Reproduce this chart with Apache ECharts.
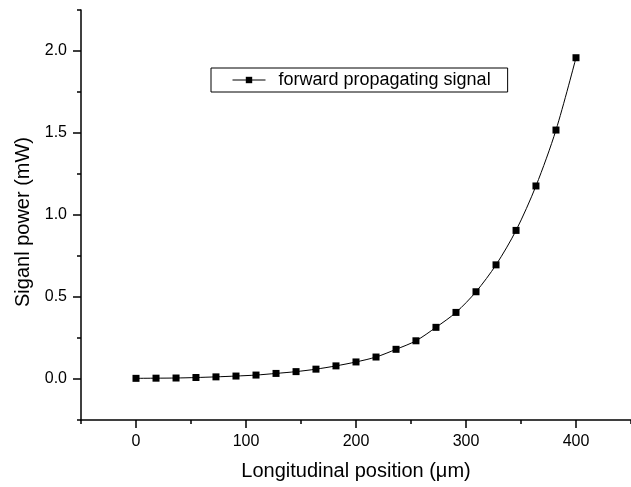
<!DOCTYPE html>
<html>
<head>
<meta charset="utf-8">
<script src="https://cdn.jsdelivr.net/npm/echarts@6/dist/echarts.min.js"></script>
<style>html,body{margin:0;padding:0;background:#fff}#c{width:631px;height:487px}</style>
</head>
<body>
<div id="c"></div>
<script>
var positions = [0, 18.2, 36.4, 54.5, 72.7, 90.9, 109.1, 127.3, 145.5, 163.6, 181.8, 200, 218.2, 236.4, 254.5, 272.7, 290.9, 309.1, 327.3, 345.5, 363.6, 381.8, 400];
var signalPower = [0.004, 0.005, 0.006, 0.009, 0.013, 0.018, 0.024, 0.034, 0.045, 0.06, 0.08, 0.104, 0.134, 0.181, 0.233, 0.315, 0.406, 0.532, 0.696, 0.906, 1.177, 1.518, 1.959];
var xMajorTicks = [0, 100, 200, 300, 400];
var xMinorTicks = [-50, 50, 150, 250, 350, 450];
var yMajorTicks = [0, 0.5, 1.0, 1.5, 2.0];
var yMinorTicks = [-0.25, 0.25, 0.75, 1.25, 1.75, 2.25];
var seriesName = 'forward propagating signal';

var FONT = "'Liberation Sans', Arial, sans-serif";
var chart = echarts.init(document.getElementById('c'), null, {renderer: 'canvas'});
var pts = positions.map(function (x, i) { return [x, signalPower[i]]; });

var axBase = {
  type: 'value', splitLine: {show: false}, scale: false
};
chart.setOption({
  animation: false,
  backgroundColor: '#fff',
  textStyle: {fontFamily: FONT, color: '#000'},
  grid: {left: 81, top: 10, right: -9, bottom: 67, containLabel: false},
  legend: {
    left: 211, top: 68,
    orient: 'horizontal',
    padding: [3, 17, 3, 21],
    itemWidth: 33, itemHeight: 8,
    borderColor: '#000', borderWidth: 1, borderRadius: 0,
    lineStyle: {width: 1, color: '#000'},
    textStyle: {fontFamily: FONT, fontSize: 18, color: '#000', padding: [0, 0, 0, 8]},
    data: [seriesName]
  },
  xAxis: [
    Object.assign({}, axBase, {
      min: -50, max: 450,
      axisLine: {show: true, onZero: false, lineStyle: {color: '#000', width: 1.5}},
      axisTick: {show: true, length: 8, inside: false, customValues: xMajorTicks, lineStyle: {color: '#000', width: 1.5}},
      axisLabel: {show: true, margin: 14, fontSize: 16, color: '#000', fontFamily: FONT, customValues: xMajorTicks},
      name: 'Longitudinal position (\u03bcm)', nameLocation: 'middle', nameGap: 41,
      nameTextStyle: {fontSize: 20, color: '#000', fontFamily: FONT}
    }),
    Object.assign({}, axBase, {
      min: -50, max: 450, position: 'bottom',
      axisLine: {show: false, onZero: false},
      axisTick: {show: true, length: 4, inside: false, customValues: xMinorTicks, lineStyle: {color: '#000', width: 1.5}},
      axisLabel: {show: false}
    })
  ],
  yAxis: [
    Object.assign({}, axBase, {
      min: -0.25, max: 2.25,
      axisLine: {show: true, onZero: false, lineStyle: {color: '#000', width: 1.5}},
      axisTick: {show: true, length: 8, inside: false, customValues: yMajorTicks, lineStyle: {color: '#000', width: 1.5}},
      axisLabel: {show: true, margin: 14, fontSize: 16, color: '#000', fontFamily: FONT, customValues: yMajorTicks,
        formatter: function (v) { return v.toFixed(1); }},
      name: 'Siganl power (mW)', nameLocation: 'middle', nameGap: 48, nameRotate: 90,
      nameTextStyle: {fontSize: 20, color: '#000', fontFamily: FONT, padding: [0, 14, 0, 0]}
    }),
    Object.assign({}, axBase, {
      min: -0.25, max: 2.25, position: 'left',
      axisLine: {show: false, onZero: false},
      axisTick: {show: true, length: 4, inside: false, customValues: yMinorTicks, lineStyle: {color: '#000', width: 1.5}},
      axisLabel: {show: false}
    })
  ],
  series: [{
    name: seriesName,
    type: 'line',
    xAxisIndex: 0, yAxisIndex: 0,
    data: pts,
    smooth: 0.3,
    symbol: 'rect', symbolSize: 7,
    itemStyle: {color: '#000'},
    lineStyle: {color: '#000', width: 1}
  }]
});
</script>
</body>
</html>
